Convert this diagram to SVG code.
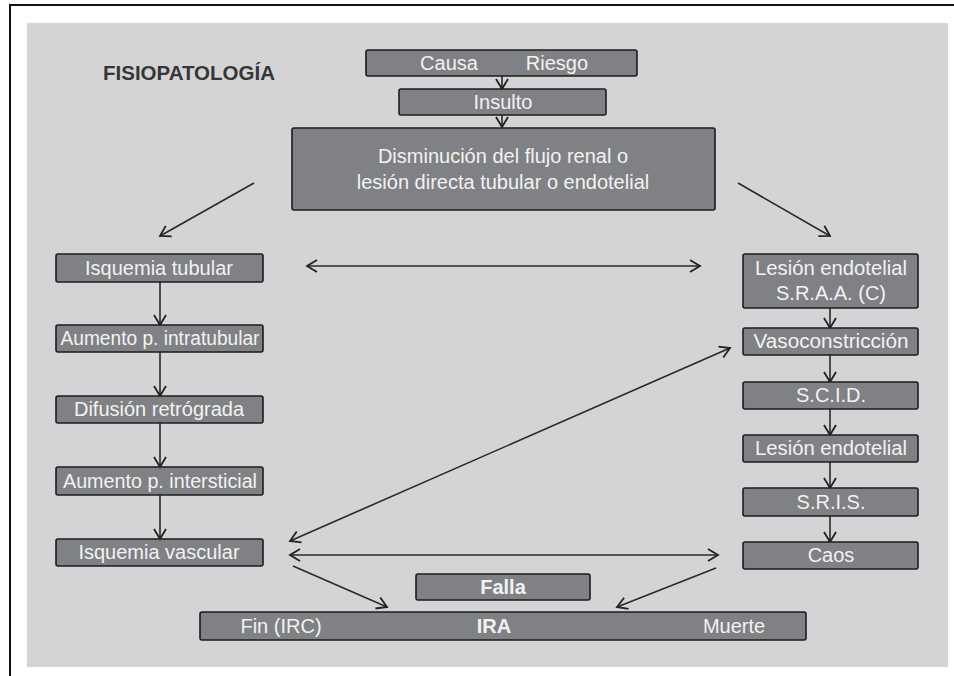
<svg xmlns="http://www.w3.org/2000/svg" width="954" height="676" viewBox="0 0 954 676">
<defs>
<marker id="ah" markerUnits="userSpaceOnUse" markerWidth="16" markerHeight="16" refX="11" refY="7" orient="auto-start-reverse" viewBox="0 0 16 14">
<path d="M1,1 L11,7 L1,13" fill="none" stroke="#222" stroke-width="1.8"/>
</marker>
<style>
.box{fill:#808184;stroke:#1c1c1c;stroke-width:1.6}
.t{font-family:"Liberation Sans",Arial,sans-serif;font-size:20px;fill:#f2f2f2;text-anchor:middle}
.b{font-weight:bold}
.c{fill:none;stroke:#2a2a2a;stroke-width:1.6;marker-end:url(#ah)}
.d{fill:none;stroke:#2a2a2a;stroke-width:1.6;marker-end:url(#ah);marker-start:url(#ah)}
</style>
</defs>
<rect x="0" y="0" width="954" height="676" fill="#fff"/>
<path d="M10,676 V5 H954" fill="none" stroke="#111" stroke-width="2"/>
<rect x="27" y="23" width="921" height="644" fill="#d4d4d6"/>
<text x="103" y="80" font-family="Liberation Sans,Arial,sans-serif" font-size="20.5px" font-weight="bold" fill="#363636">FISIOPATOLOGÍA</text>

<g id="connectors">
<line class="c" x1="502" y1="76" x2="502" y2="89"/>
<line class="c" x1="502" y1="115" x2="502" y2="127"/>
<line class="c" x1="254" y1="183" x2="160" y2="236"/>
<line class="c" x1="738" y1="183" x2="830" y2="236"/>
<line class="d" x1="307" y1="266" x2="700" y2="266"/>
<line class="c" x1="160" y1="282" x2="160" y2="325"/>
<line class="c" x1="160" y1="352" x2="160" y2="396"/>
<line class="c" x1="160" y1="423" x2="160" y2="467"/>
<line class="c" x1="160" y1="495" x2="160" y2="539"/>
<line class="c" x1="830" y1="308" x2="830" y2="328"/>
<line class="c" x1="830" y1="355" x2="830" y2="382"/>
<line class="c" x1="830" y1="409" x2="830" y2="435"/>
<line class="c" x1="830" y1="462" x2="830" y2="488"/>
<line class="c" x1="830" y1="516" x2="830" y2="542"/>
<line class="d" x1="290" y1="541" x2="730" y2="348"/>
<line class="d" x1="290" y1="555" x2="718" y2="555"/>
<line class="c" x1="293" y1="566" x2="387" y2="607"/>
<line class="c" x1="716" y1="568" x2="617" y2="607"/>
</g>

<g id="causa"><rect class="box" x="366" y="50" width="271" height="26" rx="2"/><text class="t" x="449" y="70">Causa</text><text class="t" x="557" y="70">Riesgo</text></g>
<g id="insulto"><rect class="box" x="399" y="89" width="207" height="26" rx="2"/><text class="t" x="503" y="109">Insulto</text></g>
<g id="disminucion"><rect class="box" x="292" y="128" width="423" height="82" rx="2"/><text class="t" x="503" y="163" font-size="20.5px">Disminución del flujo renal o</text><text class="t" x="503" y="189" font-size="20.5px">lesión directa tubular o endotelial</text></g>

<g id="isq-tub"><rect class="box" x="56" y="254" width="207" height="28" rx="2"/><text class="t" x="159" y="275">Isquemia tubular</text></g>
<g id="aum-intra"><rect class="box" x="56" y="325" width="207" height="27" rx="2"/><text class="t" x="160" y="345" textLength="199" lengthAdjust="spacingAndGlyphs">Aumento p. intratubular</text></g>
<g id="difusion"><rect class="box" x="56" y="396" width="207" height="27" rx="2"/><text class="t" x="159" y="416">Difusión retrógrada</text></g>
<g id="aum-inter"><rect class="box" x="56" y="467" width="207" height="28" rx="2"/><text class="t" x="160" y="488" textLength="194" lengthAdjust="spacingAndGlyphs">Aumento p. intersticial</text></g>
<g id="isq-vasc"><rect class="box" x="56" y="539" width="207" height="27" rx="2"/><text class="t" x="159" y="559">Isquemia vascular</text></g>

<g id="lesion-sraa"><rect class="box" x="743" y="254" width="175" height="54" rx="2"/><text class="t" x="831" y="275" textLength="152" lengthAdjust="spacingAndGlyphs">Lesión endotelial</text><text class="t" x="831" y="300">S.R.A.A. (C)</text></g>
<g id="vaso"><rect class="box" x="743" y="328" width="175" height="27" rx="2"/><text class="t" x="831" y="348" textLength="155" lengthAdjust="spacingAndGlyphs">Vasoconstricción</text></g>
<g id="scid"><rect class="box" x="743" y="382" width="175" height="27" rx="2"/><text class="t" x="831" y="402">S.C.I.D.</text></g>
<g id="lesion"><rect class="box" x="743" y="435" width="175" height="27" rx="2"/><text class="t" x="831" y="455" textLength="152" lengthAdjust="spacingAndGlyphs">Lesión endotelial</text></g>
<g id="sris"><rect class="box" x="743" y="488" width="175" height="28" rx="2"/><text class="t" x="831" y="509">S.R.I.S.</text></g>
<g id="caos"><rect class="box" x="743" y="542" width="175" height="27" rx="2"/><text class="t" x="831" y="562">Caos</text></g>

<g id="falla"><rect class="box" x="416" y="574" width="174" height="26" rx="2"/><text class="t b" x="503" y="594">Falla</text></g>
<g id="ira"><rect class="box" x="200" y="612" width="606" height="28" rx="2"/><text class="t" x="281" y="633">Fin (IRC)</text><text class="t b" x="494" y="633">IRA</text><text class="t" x="734" y="633">Muerte</text></g>
</svg>
